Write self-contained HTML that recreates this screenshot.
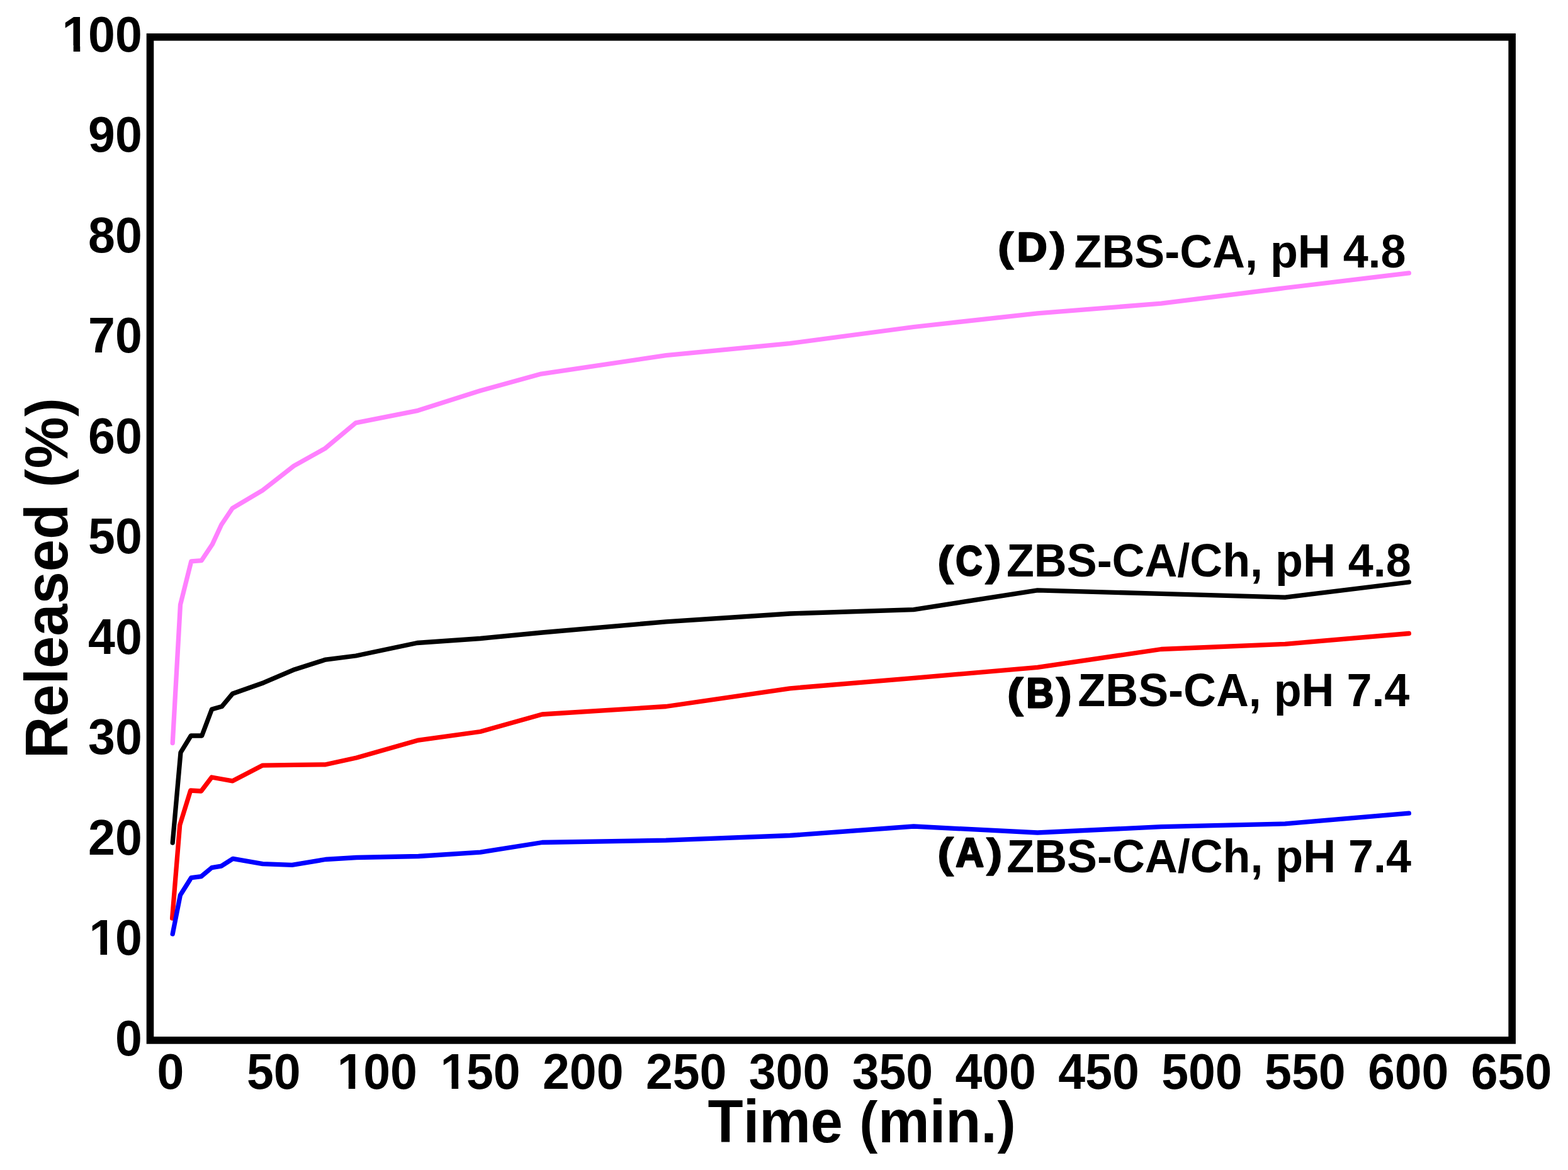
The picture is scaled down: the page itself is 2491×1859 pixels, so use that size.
<!DOCTYPE html>
<html><head><meta charset="utf-8">
<style>
html,body{margin:0;padding:0;background:#fff;}
body{width:2491px;height:1859px;overflow:hidden;}
svg{display:block;}
text{font-family:"Liberation Sans",Arial,sans-serif;font-weight:bold;fill:#000;font-kerning:none;}
</style></head><body>
<svg width="2491" height="1859" viewBox="0 0 2491 1859">
<defs><clipPath id="one" clipPathUnits="userSpaceOnUse"><rect x="-500" y="-500" width="1000" height="488.6"/><rect x="-500" y="-500" width="506" height="1000"/><rect x="56.3" y="-500" width="1000" height="1000"/><rect x="25.17" y="-500" width="13.72" height="1000"/></clipPath></defs>
<rect x="0" y="0" width="2491" height="1859" fill="#fff"/>
<g fill="none" stroke-width="7.3" stroke-linejoin="round" stroke-linecap="round">
<polyline stroke="#ff80ff" points="274.2,1180.5 286.5,960.8 303.8,891.8 320.2,890.6 337.2,865.1 351.7,833.7 369.1,807.7 417.1,779.2 466.7,740.4 516.3,712.6 565.3,671.8 663.9,652.3 763.1,620.7 859.9,594.1 1058.0,564.7 1254.8,545.6 1451.5,519.5 1648.2,497.8 1844.8,482.2 2041.6,457.5 2238.3,433.9"/>
<polyline stroke="#000" points="274.2,1339.0 287.0,1195.6 303.3,1169.0 320.7,1169.0 336.5,1127.0 352.4,1122.6 369.3,1102.3 418.9,1084.7 468.1,1063.7 517.3,1048.1 565.3,1042.0 662.7,1021.5 763.0,1014.5 861.4,1005.0 1058.0,987.8 1254.8,975.0 1451.5,968.6 1648.2,937.8 1844.8,943.4 2041.5,949.1 2238.3,925.0"/>
<polyline stroke="#ff0000" points="273.6,1459.0 285.7,1311.0 302.7,1256.0 319.6,1257.0 336.3,1235.0 353.0,1238.0 369.2,1240.9 417.3,1216.1 468.1,1215.3 517.2,1214.8 566.4,1204.0 664.8,1176.1 763.0,1162.5 861.2,1135.0 1058.1,1122.5 1254.8,1093.8 1451.5,1077.3 1648.2,1060.4 1844.8,1031.5 2041.5,1023.3 2238.3,1006.5"/>
<polyline stroke="#0000ff" points="274.2,1484.0 286.4,1422.2 303.7,1394.7 319.6,1392.6 336.3,1378.7 351.5,1376.1 370.0,1364.3 417.3,1372.6 464.0,1374.4 517.2,1365.5 566.4,1362.5 664.8,1360.5 763.1,1354.1 861.4,1338.5 1058.0,1335.2 1254.8,1327.5 1451.5,1313.0 1648.2,1323.0 1844.8,1313.7 2041.5,1308.9 2238.3,1292.2"/>
</g>
<rect x="238.5" y="58.9" width="2163.65" height="1594" fill="none" stroke="#000" stroke-width="11.6"/>
<text transform="matrix(0.77000 0 0 0.80100 182.93 1676.70)" font-size="100">0</text>
<text transform="matrix(0.77000 0 0 0.80100 140.11 1517.18)" font-size="100" clip-path="url(#one)"><tspan dx="1.7">1</tspan><tspan dx="-1.7">0</tspan></text>
<text transform="matrix(0.77000 0 0 0.80100 140.11 1357.66)" font-size="100">20</text>
<text transform="matrix(0.77000 0 0 0.80100 140.11 1198.14)" font-size="100">30</text>
<text transform="matrix(0.77000 0 0 0.80100 140.11 1038.62)" font-size="100">40</text>
<text transform="matrix(0.77000 0 0 0.80100 140.11 879.10)" font-size="100">50</text>
<text transform="matrix(0.77000 0 0 0.80100 140.11 719.58)" font-size="100">60</text>
<text transform="matrix(0.77000 0 0 0.80100 140.11 560.06)" font-size="100">70</text>
<text transform="matrix(0.77000 0 0 0.80100 140.11 400.54)" font-size="100">80</text>
<text transform="matrix(0.77000 0 0 0.80100 140.11 241.02)" font-size="100">90</text>
<text transform="matrix(0.77000 0 0 0.80100 97.29 81.50)" font-size="100" clip-path="url(#one)"><tspan dx="1.7">1</tspan><tspan dx="-1.7">00</tspan></text>
<text transform="matrix(0.77000 0 0 0.80100 249.44 1730.20)" font-size="100">0</text>
<text transform="matrix(0.77000 0 0 0.80100 391.89 1730.20)" font-size="100">50</text>
<text transform="matrix(0.77000 0 0 0.80100 534.33 1730.20)" font-size="100" clip-path="url(#one)"><tspan dx="1.7">1</tspan><tspan dx="-1.7">00</tspan></text>
<text transform="matrix(0.77000 0 0 0.80100 698.19 1730.20)" font-size="100" clip-path="url(#one)"><tspan dx="1.7">1</tspan><tspan dx="-1.7">50</tspan></text>
<text transform="matrix(0.77000 0 0 0.80100 862.05 1730.20)" font-size="100">200</text>
<text transform="matrix(0.77000 0 0 0.80100 1025.91 1730.20)" font-size="100">250</text>
<text transform="matrix(0.77000 0 0 0.80100 1189.77 1730.20)" font-size="100">300</text>
<text transform="matrix(0.77000 0 0 0.80100 1353.63 1730.20)" font-size="100">350</text>
<text transform="matrix(0.77000 0 0 0.80100 1517.49 1730.20)" font-size="100">400</text>
<text transform="matrix(0.77000 0 0 0.80100 1681.35 1730.20)" font-size="100">450</text>
<text transform="matrix(0.77000 0 0 0.80100 1845.21 1730.20)" font-size="100">500</text>
<text transform="matrix(0.77000 0 0 0.80100 2009.07 1730.20)" font-size="100">550</text>
<text transform="matrix(0.77000 0 0 0.80100 2172.93 1730.20)" font-size="100">600</text>
<text transform="matrix(0.77000 0 0 0.80100 2336.79 1730.20)" font-size="100">650</text>
<text transform="matrix(0.91840 0 0 0.95800 1124.57 1815.40)" font-size="100">Time <tspan dx="0.82" dy="-1.27" font-size="95.10">(</tspan><tspan dx="0.82" dy="1.27">min.</tspan><tspan dx="0.82" dy="-1.27" font-size="95.10">)</tspan></text>
<text transform="translate(106.70 1205.37) rotate(-90) scale(0.92160 0.96100)" font-size="100">Released <tspan dx="0.67" dy="-1.03" font-size="96.00">(</tspan><tspan dx="0.67" dy="1.03">%</tspan><tspan dx="0.67" dy="-1.03" font-size="96.00">)</tspan></text>
<text transform="matrix(0.78418 0 0 0.65012 1584.48 414.76)" font-size="100" stroke="#000" stroke-width="2.0" stroke-linejoin="round">(</text><text transform="matrix(0.66536 0 0 0.64522 1615.55 415.25)" font-size="100" stroke="#000" stroke-width="4.2" stroke-linejoin="round">D</text><text transform="matrix(0.78418 0 0 0.65012 1667.41 414.76)" font-size="100" stroke="#000" stroke-width="2.0" stroke-linejoin="round">)</text>
<text transform="matrix(0.71870 0 0 0.74700 1706.56 424.90)" font-size="100">ZBS-CA, pH 4.8</text>
<text transform="matrix(0.79411 0 0 0.66483 1488.84 913.94)" font-size="100" stroke="#000" stroke-width="2.0" stroke-linejoin="round">(</text><text transform="matrix(0.58637 0 0 0.66533 1518.33 913.65)" font-size="100" stroke="#000" stroke-width="4.2" stroke-linejoin="round">C</text><text transform="matrix(0.78418 0 0 0.66483 1565.11 913.94)" font-size="100" stroke="#000" stroke-width="2.0" stroke-linejoin="round">)</text>
<text transform="matrix(0.71870 0 0 0.74700 1598.96 915.60)" font-size="100">ZBS-CA/Ch, pH 4.8</text>
<text transform="matrix(0.79411 0 0 0.67113 1599.44 1123.80)" font-size="100" stroke="#000" stroke-width="2.0" stroke-linejoin="round">(</text><text transform="matrix(0.60596 0 0 0.66165 1630.22 1123.71)" font-size="100" stroke="#000" stroke-width="4.2" stroke-linejoin="round">B</text><text transform="matrix(0.77425 0 0 0.67113 1677.60 1123.80)" font-size="100" stroke="#000" stroke-width="2.0" stroke-linejoin="round">)</text>
<text transform="matrix(0.71870 0 0 0.74700 1712.36 1121.60)" font-size="100">ZBS-CA, pH 7.4</text>
<text transform="matrix(0.79411 0 0 0.65747 1488.84 1377.80)" font-size="100" stroke="#000" stroke-width="2.0" stroke-linejoin="round">(</text><text transform="matrix(0.62141 0 0 0.64933 1518.26 1377.44)" font-size="100" stroke="#000" stroke-width="4.2" stroke-linejoin="round">A</text><text transform="matrix(0.77425 0 0 0.65747 1567.00 1377.80)" font-size="100" stroke="#000" stroke-width="2.0" stroke-linejoin="round">)</text>
<text transform="matrix(0.71870 0 0 0.74700 1599.26 1385.60)" font-size="100">ZBS-CA/Ch, pH 7.4</text>
</svg>
</body></html>
